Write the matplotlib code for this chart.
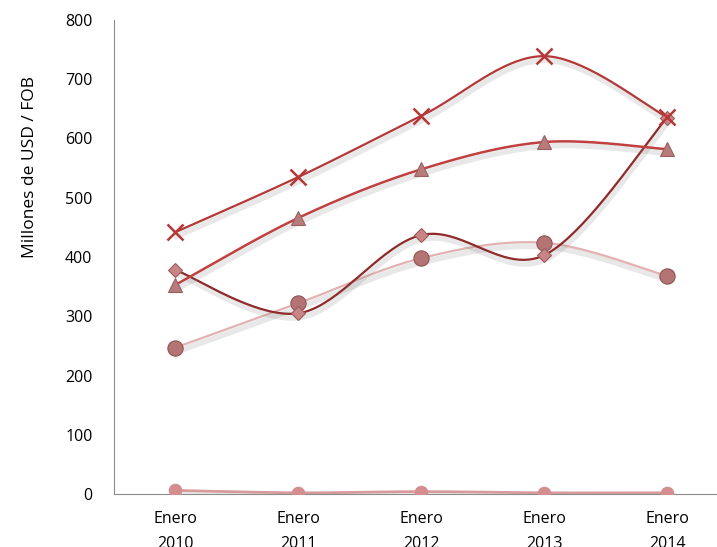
import numpy as np
import matplotlib
matplotlib.use("Agg")
import matplotlib.pyplot as plt
import matplotlib.patheffects as pe

categories = ["Enero\n2010", "Enero\n2011", "Enero\n2012", "Enero\n2013", "Enero\n2014"]
serie_x = [442, 535, 638, 739, 636]
serie_tri = [353, 466, 548, 594, 582]
serie_diam = [378, 305, 437, 403, 635]
serie_esf = [247, 322, 398, 424, 368]
serie_base = [6, 2, 4, 2, 2]

plt.rcParams['font.family'] = ['Open Sans', 'DejaVu Sans']

def smooth(xs, ys, n=40):
    xs = np.asarray(xs, float); ys = np.asarray(ys, float)
    px, py = [], []
    m = len(xs)
    for i in range(m - 1):
        x0, y0 = xs[max(i - 1, 0)], ys[max(i - 1, 0)]
        x1, y1 = xs[i], ys[i]
        x2, y2 = xs[i + 1], ys[i + 1]
        x3, y3 = xs[min(i + 2, m - 1)], ys[min(i + 2, m - 1)]
        c1x, c1y = x1 + (x2 - x0) / 6, y1 + (y2 - y0) / 6
        c2x, c2y = x2 - (x3 - x1) / 6, y2 - (y3 - y1) / 6
        t = np.linspace(0, 1, n)
        bx = (1-t)**3*x1 + 3*(1-t)**2*t*c1x + 3*(1-t)*t**2*c2x + t**3*x2
        by = (1-t)**3*y1 + 3*(1-t)**2*t*c1y + 3*(1-t)*t**2*c2y + t**3*y2
        px.extend(bx); py.extend(by)
    return np.array(px), np.array(py)

fig = plt.figure(figsize=(7.17, 5.47), dpi=100)
ax = fig.add_axes([114/717, 1 - 494/547, (728.5 - 114)/717, (494 - 20)/547])

x = np.arange(len(categories))
shadow = [pe.SimpleLineShadow(offset=(1, -3), shadow_color='gray', alpha=0.18, linewidth=4), pe.Normal()]

def draw(vals, lcolor, lw, marker, mface, medge, ms, mew=0.8):
    sx, sy = smooth(x, vals)
    ax.plot(sx, sy, color=lcolor, lw=lw, path_effects=shadow, zorder=2)
    ax.plot(x, vals, ls='none', marker=marker, ms=ms, mfc=mface, mec=medge, mew=mew, zorder=3)

draw(serie_base, '#D99A9C', 2.0, 'o', '#D48E90', '#D48E90', 9)
draw(serie_esf, '#E2B2B2', 1.6, 'o', '#B47474', '#8E5656', 11)
draw(serie_diam, '#8E2A2A', 1.6, 'D', '#C98585', '#9E5C5C', 7)
draw(serie_tri, '#C04040', 1.8, '^', '#B77B7B', '#9A6060', 10)
draw(serie_x, '#B53838', 1.6, 'x', '#B53838', '#B53838', 11, 1.8)

ax.set_xlim(-0.5, len(categories) - 0.5)
ax.set_ylim(0, 800)
ax.set_yticks(range(0, 801, 100))
ax.set_xticks(x)
ax.set_xticklabels(categories, fontsize=11.5, linespacing=1.75)
ax.tick_params(axis='y', length=0, pad=15.5, labelsize=11.5)
ax.tick_params(axis='x', length=0, pad=12)
ax.spines['top'].set_visible(False)
ax.spines['right'].set_visible(False)
ax.spines['left'].set_color('#8C8C8C')
ax.spines['bottom'].set_color('#8C8C8C')
ax.set_ylabel("Millones de USD / FOB", fontsize=12.5)
ax.yaxis.set_label_coords(-0.124, 0.69)

fig.savefig("out.png", dpi=100)
